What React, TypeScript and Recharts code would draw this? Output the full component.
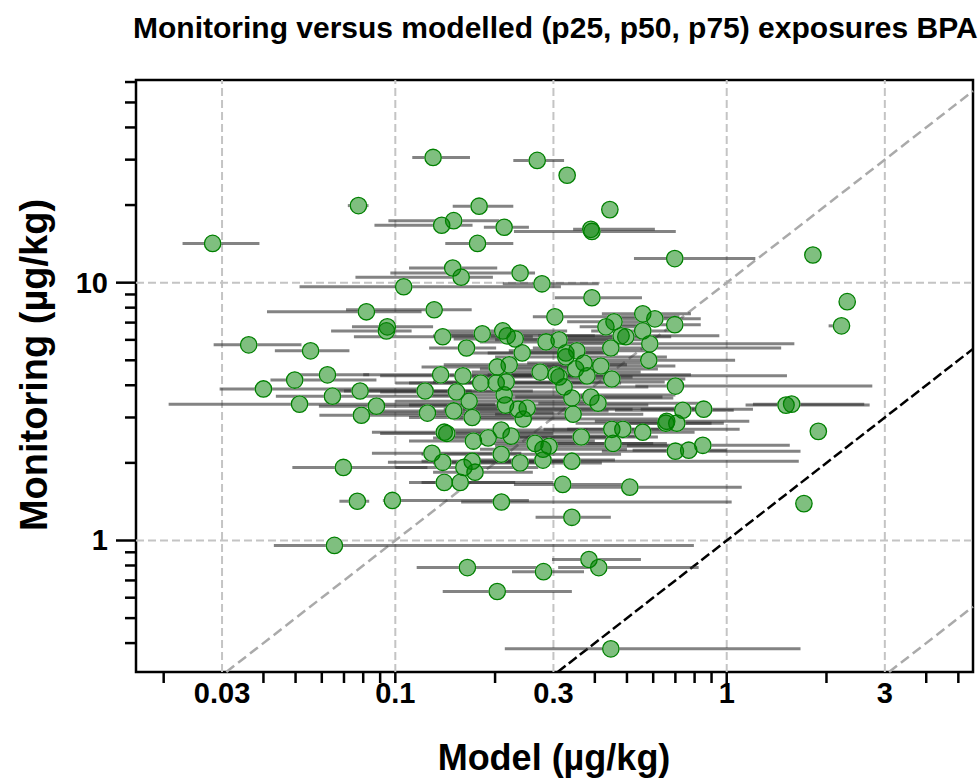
import React from "react";
import {
  ScatterChart,
  Scatter,
  XAxis,
  YAxis,
  ReferenceLine,
  ReferenceArea,
} from "recharts";

// modelled exposure percentiles (µg/kg) and monitoring value (µg/kg), one entry per sample
const p25 = [
  0.0228, 0.0719, 0.1125, 0.227, 0.318, 0.149, 0.437, 0.0865,
  0.0953, 0.185, 0.344, 0.228, 0.1415, 0.525, 1.8, 0.11,
  0.0966, 0.0758, 0.211, 0.0514, 0.303, 2.29, 2.03, 0.42,
  0.45, 0.47, 0.33, 0.36, 0.39, 0.3, 0.27, 0.31,
  0.26, 0.36, 0.22, 0.2, 0.25, 0.18, 0.21, 0.28,
  0.3, 0.16, 0.19, 0.53, 0.23, 0.27, 0.15, 0.2,
  0.46, 0.55, 0.4, 0.44, 0.35, 0.28, 0.33, 0.38,
  0.22, 0.3, 0.42, 0.52, 0.5, 0.2, 0.228, 0.33,
  1.14, 1.2, 1.87, 1.69, 0.265, 0.297, 0.31, 0.214,
  0.0678, 0.0917, 0.158, 0.043, 0.116, 0.225, 0.139, 0.11,
  0.12, 0.085, 0.095, 0.1, 0.12, 0.13, 0.085, 0.09,
  0.11, 0.13, 0.14, 0.15, 0.17, 0.18, 0.2, 0.16,
  0.13, 0.12, 0.07, 0.09, 0.1, 0.075, 0.09, 0.11,
  0.17, 0.19, 0.12, 0.14, 0.13, 0.1, 0.12, 0.11,
  0.14, 0.16, 0.15, 0.08, 0.09, 0.11, 0.14, 0.13,
  0.15, 0.16, 0.18, 0.2, 0.19, 0.26, 0.075, 0.14,
  0.1265, 0.071, 0.041, 0.074, 0.064, 0.0283, 0.0433, 0.0514,
  0.042, 0.0295, 0.0666, 0.0436, 0.0207, 0.0588, 0.059, 0.0489,
];

const p50 = [
  0.0281, 0.0774, 0.13, 0.268, 0.33, 0.179, 0.444, 0.138,
  0.15, 0.213, 0.389, 0.392, 0.177, 0.697, 1.82, 0.149,
  0.238, 0.158, 0.277, 0.106, 0.392, 2.31, 2.22, 0.558,
  0.607, 0.697, 0.457, 0.432, 0.558, 0.496, 0.48, 0.586,
  0.447, 0.582, 0.353, 0.327, 0.371, 0.35, 0.379, 0.417,
  0.45, 0.312, 0.323, 0.7, 0.389, 0.409, 0.341, 0.344,
  0.737, 0.852, 0.659, 0.707, 0.655, 0.45, 0.486, 0.558,
  0.364, 0.454, 0.7, 0.768, 0.847, 0.341, 0.32, 0.51,
  1.51, 1.57, 1.89, 1.71, 0.341, 0.384, 0.411, 0.447,
  0.0768, 0.098, 0.209, 0.0655, 0.165, 0.28, 0.203, 0.1405,
  0.157, 0.129, 0.139, 0.161, 0.1706, 0.174, 0.1405, 0.143,
  0.172, 0.1906, 0.2087, 0.2236, 0.264, 0.279, 0.291, 0.279,
  0.238, 0.2087, 0.123, 0.153, 0.167, 0.125, 0.15, 0.1706,
  0.2735, 0.3055, 0.203, 0.2206, 0.216, 0.2015, 0.213, 0.215,
  0.2347, 0.25, 0.2432, 0.137, 0.16, 0.181, 0.211, 0.2175,
  0.23, 0.2415, 0.285, 0.312, 0.327, 0.303, 0.139, 0.183,
  0.164, 0.131, 0.0818, 0.0946, 0.094, 0.0361, 0.0555, 0.0624,
  0.0497, 0.04, 0.0783, 0.0646, 0.0514, 0.0877, 0.079, 0.0697,
];

const p75 = [
  0.0389, 0.083, 0.168, 0.323, 0.343, 0.227, 0.451, 0.171,
  0.206, 0.253, 0.607, 0.702, 0.227, 1.22, 1.84, 0.203,
  0.264, 0.197, 0.411, 0.316, 0.555, 2.33, 2.25, 0.78,
  0.835, 0.835, 0.62, 0.55, 0.72, 0.68, 0.95, 1.6,
  1.46, 1.06, 0.6, 0.66, 0.55, 0.62, 1.52, 0.7,
  0.75, 0.52, 0.58, 2.75, 0.64, 0.85, 0.69, 0.56,
  1.05, 1.2, 1.17, 0.98, 0.9, 1.094, 0.72, 0.8,
  0.62, 0.66, 1.67, 1.0, 1.55, 1.65, 0.5, 1.11,
  2.7, 2.6, 1.91, 1.73, 0.447, 0.551, 0.823, 1.67,
  0.0834, 0.253, 1.035, 0.796, 0.285, 0.371, 0.341, 0.23,
  0.3, 0.24, 0.28, 0.27, 0.33, 0.26, 0.36, 0.3,
  0.4, 0.45, 0.38, 0.55, 0.6, 0.5, 0.75, 0.46,
  0.42, 0.48, 0.26, 0.34, 0.4, 0.3, 0.44, 0.36,
  0.55, 0.78, 0.42, 0.5, 0.65, 0.38, 0.7, 0.58,
  0.52, 0.9, 0.62, 0.3, 0.36, 0.48, 0.33, 0.4,
  0.52, 0.45, 0.49, 0.58, 0.47, 0.72, 0.26, 0.3,
  0.2015, 0.17, 0.12, 0.13, 0.112, 0.0521, 0.0727, 0.0834,
  0.0877, 0.12, 0.17, 0.15, 0.2, 0.22, 0.25, 0.125,
];

const monitoring = [
  14.2, 19.9, 30.6, 29.8, 26.1, 19.8, 19.2, 16.7,
  17.4, 16.4, 16.1, 15.8, 14.2, 12.4, 12.8, 11.4,
  10.9, 10.5, 9.9, 9.64, 8.74, 8.44, 6.8, 7.57,
  7.24, 6.87, 7.05, 6.74, 6.5, 6.17, 6.22, 5.79,
  5.58, 5.0, 5.44, 5.15, 4.88, 4.63, 4.35, 4.75,
  4.23, 4.31, 3.94, 3.97, 3.6, 3.41, 3.57, 3.09,
  3.2, 3.23, 2.9, 2.85, 2.85, 2.7, 2.7, 2.63,
  2.52, 2.38, 2.22, 2.24, 2.34, 2.03, 1.65, 1.61,
  3.35, 3.38, 2.65, 1.39, 1.23, 0.844, 0.785, 0.38,
  1.42, 1.43, 1.41, 0.957, 0.785, 0.757, 0.634, 1.68,
  1.68, 2.18, 2.01, 1.92, 2.03, 1.84, 2.63, 2.6,
  2.43, 2.5, 2.68, 2.54, 2.38, 2.26, 2.32, 2.05,
  2.0, 2.16, 3.8, 3.77, 3.47, 3.12, 3.18, 3.0,
  4.5, 4.39, 4.71, 4.8, 4.12, 4.08, 3.67, 3.35,
  3.23, 3.26, 2.96, 4.39, 4.35, 4.08, 6.5, 6.22,
  6.05, 5.34, 5.89, 6.0, 5.34, 7.37, 6.17, 6.33,
  5.58, 7.85, 7.71, 6.74, 6.5, 5.74, 5.44, 4.39,
  4.19, 3.87, 3.8, 3.63, 3.38, 3.32, 3.06, 1.92,
];

const X_LABELS = [0.03, 0.1, 0.3, 1, 3];
const X_MARKS = [
  0.02, 0.04, 0.05, 0.06, 0.07, 0.08, 0.09, 0.1,
  0.2, 0.4, 0.5, 0.6, 0.7, 0.8, 0.9, 1, 2, 4, 5,
];
const Y_LABELS = [1, 10];
const Y_MARKS = [
  0.4, 0.5, 0.6, 0.7, 0.8, 0.9, 1, 2, 3, 4, 5, 6, 7, 8, 9, 10,
  20, 30, 40, 50, 60,
];
// reference lines y = k * x
const RATIOS = [
  { k: 10, color: "#aaaaaa", dash: "10 5" },
  { k: 1, color: "#000000", dash: "10 4" },
  { k: 0.1, color: "#aaaaaa", dash: "10 5" },
];

const XMIN = 0.0165;
const XMAX = 5.536;
const YMIN = 0.309;
const YMAX = 61.1;

const FONT = "'Liberation Sans', Arial, sans-serif";
const R = 8.2;

const points = p50.map((x, i) => ({ x, y: monitoring[i] }));
// each p25-p75 range as a two-point series
const ranges = p50.map((_, i) => [
  { x: p25[i], y: monitoring[i] },
  { x: p75[i], y: monitoring[i] },
]);

const xTicks = [...X_MARKS, ...X_LABELS]
  .filter((v, i, a) => a.indexOf(v) === i)
  .sort((a, b) => a - b);

function XTick(props: any) {
  const { x, y, payload } = props;
  const v = payload.value;
  return (
    <g>
      {X_MARKS.includes(v) && (
        <line x1={x} x2={x} y1={y} y2={y + 11} stroke="#000" strokeWidth={2.5} />
      )}
      {X_LABELS.includes(v) && (
        <text x={x} y={y + 31} textAnchor="middle" fontFamily={FONT} fontWeight="bold" fontSize={29} fill="#000">
          {String(v)}
        </text>
      )}
    </g>
  );
}

function YTick(props: any) {
  const { x, y, payload } = props;
  const v = payload.value;
  const major = Y_LABELS.includes(v);
  return (
    <g>
      <line x1={x - (major ? 20 : 11)} x2={x} y1={y} y2={y} stroke="#000" strokeWidth={2.5} />
      {major && (
        <text x={x - 28} y={y + 10} textAnchor="end" fontFamily={FONT} fontWeight="bold" fontSize={29} fill="#000">
          {String(v)}
        </text>
      )}
    </g>
  );
}

// white disc under each marker hides the ranges behind it
function Backing(props: any) {
  const { cx, cy } = props;
  if (cx == null || cy == null) return null;
  return <circle cx={cx} cy={cy} r={R + 0.6} fill="#fff" />;
}

function Dot(props: any) {
  const { cx, cy } = props;
  if (cx == null || cy == null) return null;
  return (
    <circle cx={cx} cy={cy} r={R} fill="#008000" fillOpacity={0.5} stroke="#008000" strokeWidth={1.3} />
  );
}

function segmentFor(k: number) {
  const x0 = Math.max(XMIN, YMIN / k);
  const x1 = Math.min(XMAX, YMAX / k);
  return [
    { x: x0, y: x0 * k },
    { x: x1, y: x1 * k },
  ];
}

export default function App() {
  return (
    <div style={{ position: "absolute", left: 0, top: 0, width: 979, height: 778, overflow: "hidden", background: "#fff" }}>
      <ScatterChart width={979} height={778} margin={{ top: 80, right: 6, bottom: 0, left: 0 }}>
        <XAxis
          type="number"
          dataKey="x"
          scale="log"
          domain={[XMIN, XMAX]}
          allowDataOverflow
          ticks={xTicks}
          interval={0}
          height={106}
          tickSize={0}
          tickMargin={0}
          axisLine={false}
          tickLine={false}
          tick={(p: any) => <XTick {...p} />}
        />
        <YAxis
          type="number"
          dataKey="y"
          scale="log"
          domain={[YMIN, YMAX]}
          allowDataOverflow
          ticks={Y_MARKS}
          interval={0}
          width={136}
          tickSize={0}
          tickMargin={0}
          axisLine={false}
          tickLine={false}
          tick={(p: any) => <YTick {...p} />}
        />
        {X_LABELS.map((v) => (
          <ReferenceLine key={"gx" + v} x={v} stroke="#c4c4c4" strokeWidth={2} strokeDasharray="8 4" />
        ))}
        {Y_LABELS.map((v) => (
          <ReferenceLine key={"gy" + v} y={v} stroke="#c4c4c4" strokeWidth={2} strokeDasharray="8 4" />
        ))}
        {RATIOS.map((r) => (
          <ReferenceLine
            key={"d" + r.k}
            segment={segmentFor(r.k)}
            stroke={r.color}
            strokeWidth={2.5}
            strokeDasharray={r.dash}
          />
        ))}
        {/* p25-p75 ranges first, so the circles sit on top */}
        {ranges.map((seg, i) => (
          <Scatter
            key={"r" + i}
            data={seg}
            line={{ stroke: "#303030", strokeWidth: 3, strokeOpacity: 0.6 }}
            lineType="joint"
            shape={() => <g />}
            legendType="none"
            isAnimationActive={false}
          />
        ))}
        <Scatter data={points} shape={(p: any) => <Backing {...p} />} isAnimationActive={false} />
        <Scatter data={points} shape={(p: any) => <Dot {...p} />} isAnimationActive={false} />
        <ReferenceArea x1={XMIN} x2={XMAX} y1={YMIN} y2={YMAX} fill="none" stroke="#000" strokeWidth={2.5} />
      </ScatterChart>
      <svg width={979} height={778} style={{ position: "absolute", left: 0, top: 0, pointerEvents: "none" }}>
        <text x={133} y={38} fontFamily={FONT} fontWeight="bold" fontSize={30} fill="#000">
          Monitoring versus modelled (p25, p50, p75) exposures BPA
        </text>
        <text x={554} y={770} textAnchor="middle" fontFamily={FONT} fontWeight="bold" fontSize={36} fill="#000">
          Model (µg/kg)
        </text>
        <text
          transform="rotate(-90)"
          x={-365}
          y={47}
          textAnchor="middle"
          fontFamily={FONT}
          fontWeight="bold"
          fontSize={38}
          fill="#000"
        >
          Monitoring (µg/kg)
        </text>
      </svg>
    </div>
  );
}
